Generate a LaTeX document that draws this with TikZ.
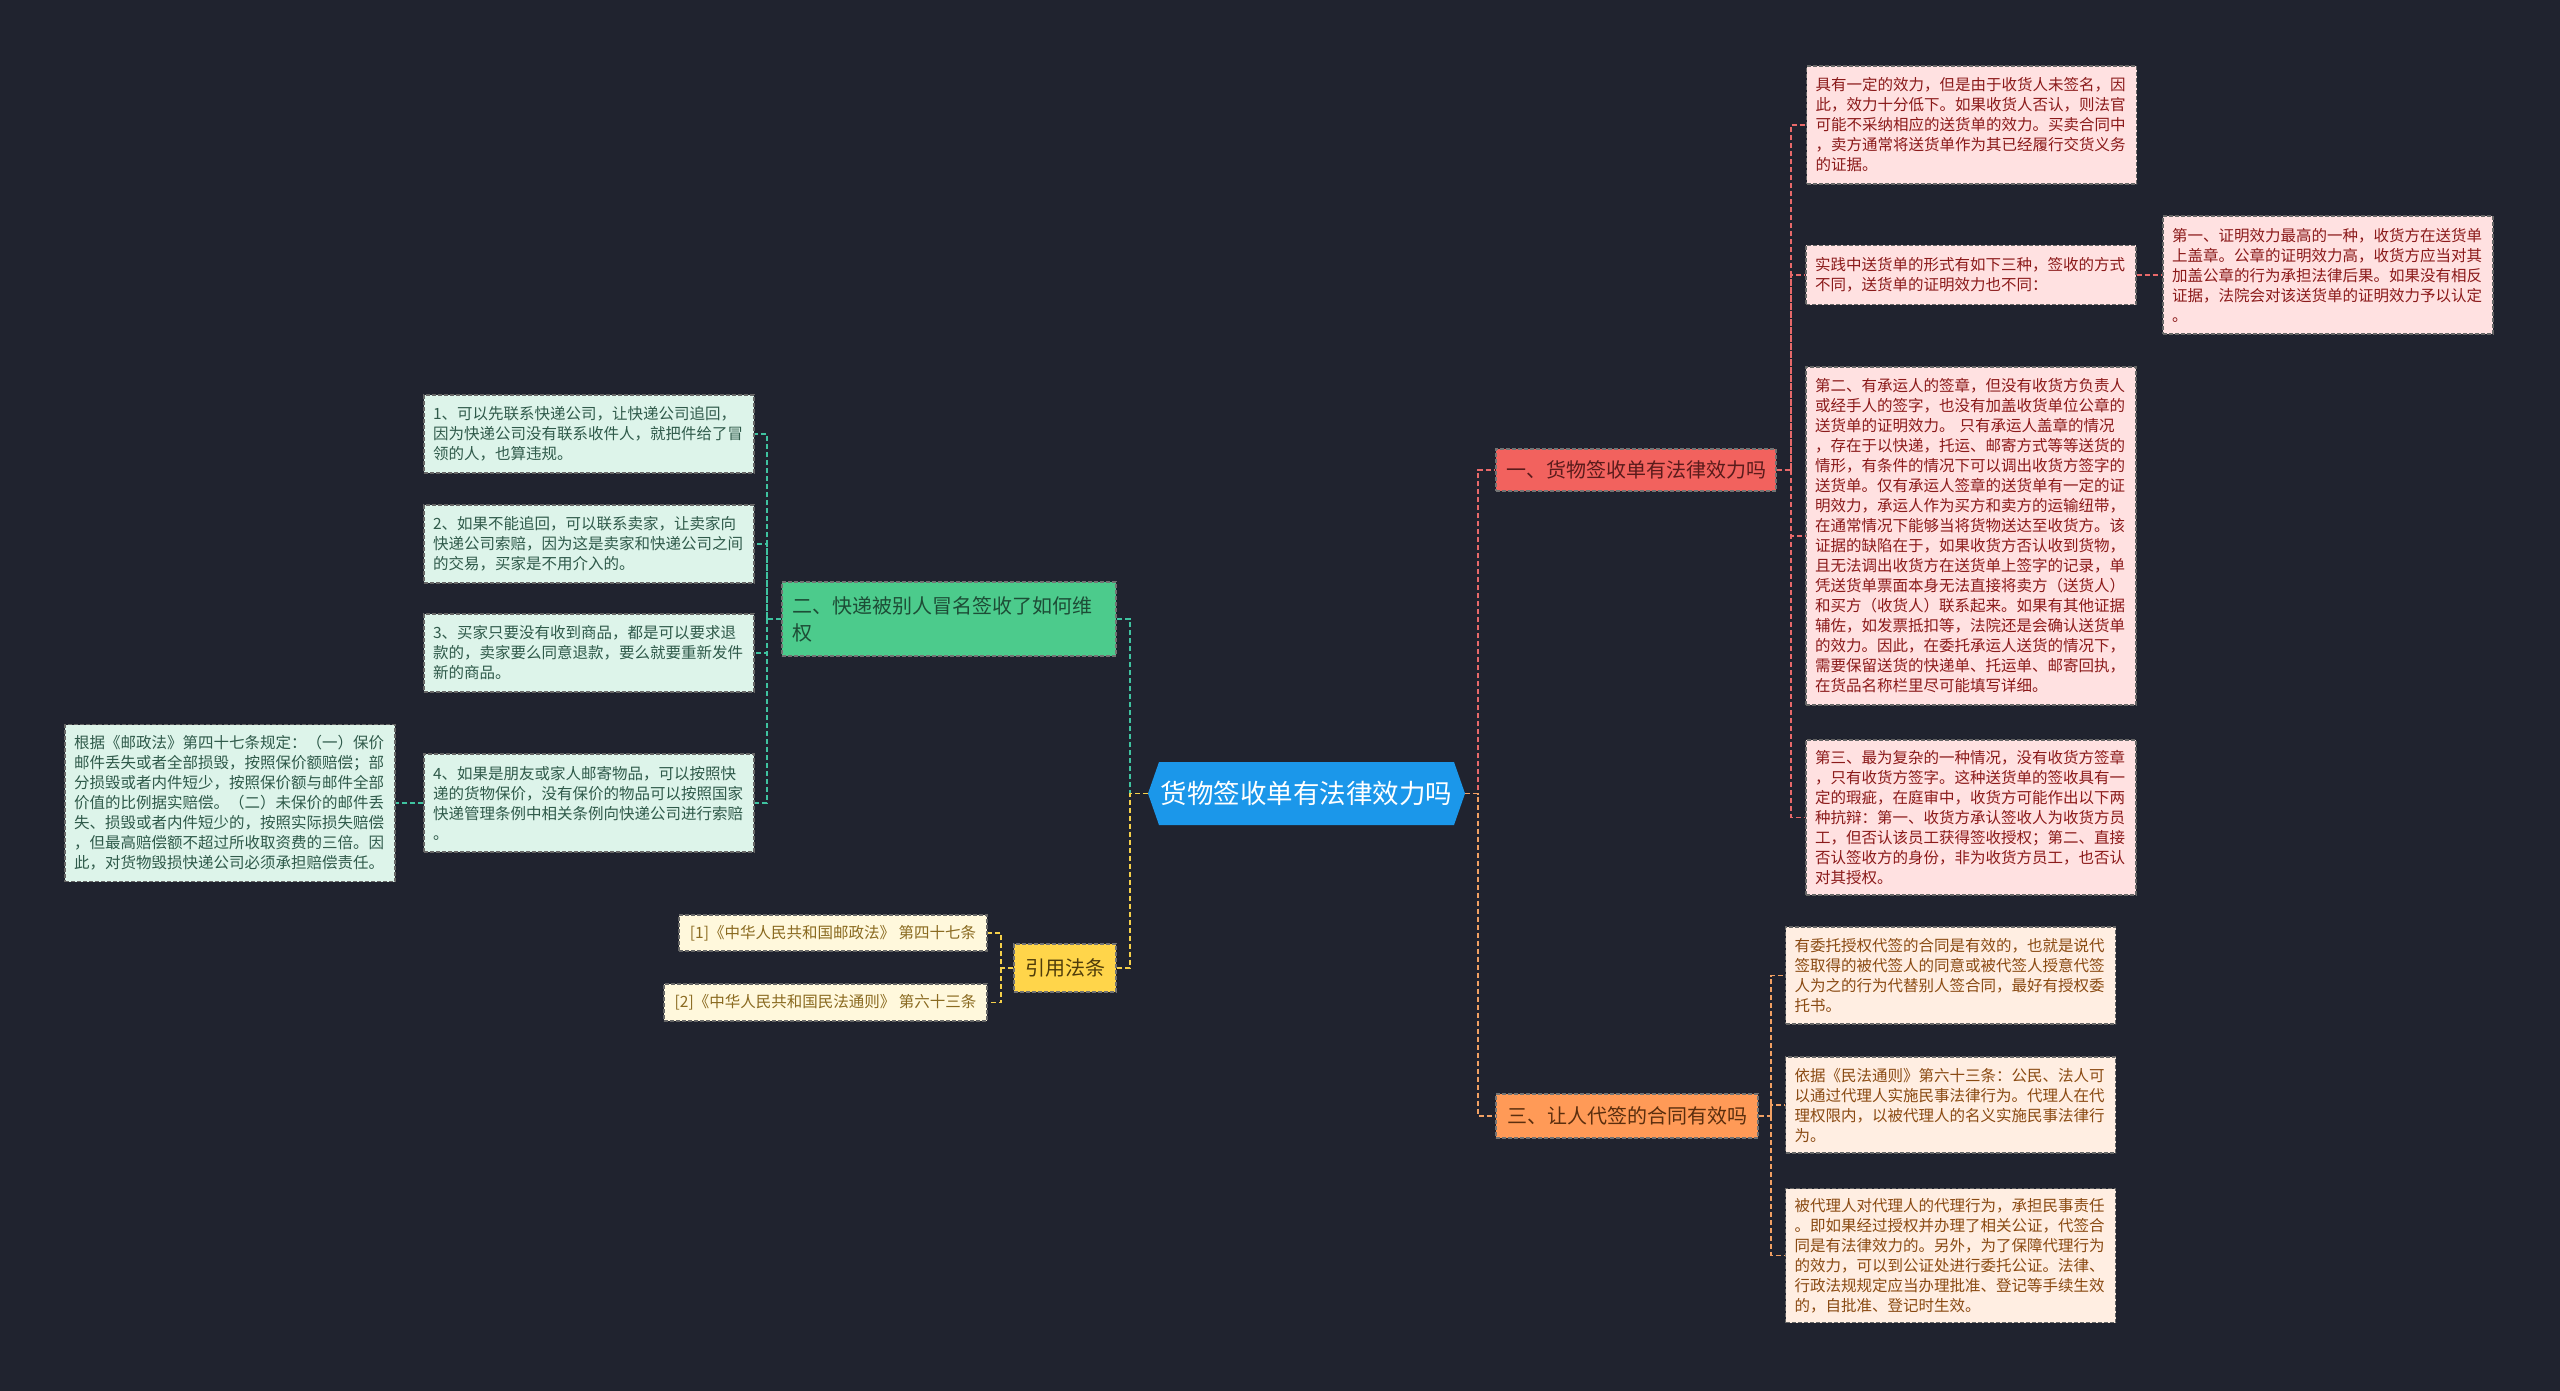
\documentclass[tikz,border=0pt]{standalone}
\usepackage{fontspec}
\setmainfont{Noto Sans CJK SC}
\definecolor{bg}{HTML}{20232F}
\definecolor{ctrblue}{HTML}{1B97EA}
\definecolor{redb}{HTML}{F2625E}
\definecolor{redt}{HTML}{5A1B1B}
\definecolor{orab}{HTML}{FF9A57}
\definecolor{orat}{HTML}{5A2E0E}
\definecolor{grnb}{HTML}{4CCB8C}
\definecolor{grnt}{HTML}{1D4D36}
\definecolor{yelb}{HTML}{FFD54A}
\definecolor{yelt}{HTML}{4F3C0A}
\definecolor{pinkf}{HTML}{FFE1E1}
\definecolor{pinkt}{HTML}{8B1A1A}
\definecolor{peachf}{HTML}{FFEEE2}
\definecolor{peacht}{HTML}{8A4A12}
\definecolor{mintf}{HTML}{DDF4EA}
\definecolor{mintt}{HTML}{2F5A4A}
\definecolor{creamf}{HTML}{FFF8DC}
\definecolor{creamt}{HTML}{8A6A20}
\definecolor{lnred}{HTML}{E8696A}
\definecolor{lnora}{HTML}{F2A063}
\definecolor{lnteal}{HTML}{3FC3A0}
\definecolor{lnyel}{HTML}{F5D04A}
\newcommand\leaffont{\fontsize{15.5}{20}\selectfont}
\newcommand\brfont{\fontsize{20}{27}\selectfont}
\begin{document}
\begin{tikzpicture}[x=1pt,y=1pt,
  boxline/.style={line width=1.2pt, dash pattern=on 4pt off 2pt},
  leafbox/.style={boxline, font=\leaffont, align=left, inner xsep=9pt, inner ysep=0pt, text width=312pt},
  pinkleaf/.style={leafbox, draw=black!60, fill=pinkf, text=pinkt},
  peachleaf/.style={leafbox, draw=black!60, fill=peachf, text=peacht},
  mintleaf/.style={leafbox, draw=black!60, fill=mintf, text=mintt},
  citebox/.style={boxline, draw=black!60, fill=creamf, text=creamt, font=\leaffont, inner sep=0pt, align=center},
  branch/.style={boxline, font=\brfont, inner sep=0pt, align=center},
  conn/.style={line width=1.8pt, dash pattern=on 5pt off 3pt},
]
\useasboundingbox[fill=bg] (0,0) rectangle (2560,-1391);

% center
\node[minimum width=317pt, minimum height=63pt, inner sep=0pt, text=white,
  font=\fontsize{26.5}{30}\selectfont,
  path picture={\fill[ctrblue] (path picture bounding box.west) -- ([xshift=11pt]path picture bounding box.north west) -- ([xshift=-11pt]path picture bounding box.north east) -- (path picture bounding box.east) -- ([xshift=-11pt]path picture bounding box.south east) -- ([xshift=11pt]path picture bounding box.south west) -- cycle;}]
  (ctr) at (1306.5,-793.5) {货物签收单有法律效力吗};

% main branches
\node[branch, draw=black!55, fill=redb, text=redt, minimum width=280pt, minimum height=42pt] (b1) at (1636,-470) {一、货物签收单有法律效力吗};
\node[branch, draw=black!55, fill=orab, text=orat, minimum width=262pt, minimum height=44pt] (b3) at (1627,-1116) {三、让人代签的合同有效吗};
\node[branch, draw=black!55, fill=grnb, text=grnt, minimum height=74pt, text width=314pt, inner xsep=10pt, align=left] (b2) at (949,-619) {二、快递被别人冒名签收了如何维\\权};
\node[branch, draw=black!55, fill=yelb, text=yelt, minimum width=102pt, minimum height=48pt] (yy) at (1065,-968) {引用法条};

% citations
\node[citebox, minimum width=308pt, minimum height=36pt] (c1) at (833,-933) {[1]《中华人民共和国邮政法》 第四十七条};
\node[citebox, minimum width=323pt, minimum height=37pt] (c2) at (825.5,-1002.5) {[2]《中华人民共和国民法通则》 第六十三条};

% right pink leaves
\node[pinkleaf, minimum height=118pt] (r1) at (1971.5,-125) {具有一定的效力，但是由于收货人未签名，因\\此，效力十分低下。如果收货人否认，则法官\\可能不采纳相应的送货单的效力。买卖合同中\\，卖方通常将送货单作为其已经履行交货义务\\的证据。};
\node[pinkleaf, minimum height=59pt] (r2) at (1971,-275) {实践中送货单的形式有如下三种，签收的方式\\不同，送货单的证明效力也不同：};
\node[pinkleaf, minimum height=118pt] (r2a) at (2328,-275) {第一、证明效力最高的一种，收货方在送货单\\上盖章。公章的证明效力高，收货方应当对其\\加盖公章的行为承担法律后果。如果没有相反\\证据，法院会对该送货单的证明效力予以认定\\。};
\node[pinkleaf, minimum height=338pt] (r3) at (1971,-536) {第二、有承运人的签章，但没有收货方负责人\\或经手人的签字，也没有加盖收货单位公章的\\送货单的证明效力。 只有承运人盖章的情况\\，存在于以快递，托运、邮寄方式等等送货的\\情形，有条件的情况下可以调出收货方签字的\\送货单。仅有承运人签章的送货单有一定的证\\明效力，承运人作为买方和卖方的运输纽带，\\在通常情况下能够当将货物送达至收货方。该\\证据的缺陷在于，如果收货方否认收到货物，\\且无法调出收货方在送货单上签字的记录，单\\凭送货单票面本身无法直接将卖方（送货人）\\和买方（收货人）联系起来。如果有其他证据\\辅佐，如发票抵扣等，法院还是会确认送货单\\的效力。因此，在委托承运人送货的情况下，\\需要保留送货的快递单、托运单、邮寄回执，\\在货品名称栏里尽可能填写详细。};
\node[pinkleaf, minimum height=155pt] (r4) at (1971,-817.5) {第三、最为复杂的一种情况，没有收货方签章\\，只有收货方签字。这种送货单的签收具有一\\定的瑕疵，在庭审中，收货方可能作出以下两\\种抗辩：第一、收货方承认签收人为收货方员\\工，但否认该员工获得签收授权；第二、直接\\否认签收方的身份，非为收货方员工，也否认\\对其授权。};

% right peach leaves
\node[peachleaf, minimum height=97pt] (o1) at (1950.5,-975.5) {有委托授权代签的合同是有效的，也就是说代\\签取得的被代签人的同意或被代签人授意代签\\人为之的行为代替别人签合同，最好有授权委\\托书。};
\node[peachleaf, minimum height=96pt] (o2) at (1950.5,-1105) {依据《民法通则》第六十三条：公民、法人可\\以通过代理人实施民事法律行为。代理人在代\\理权限内，以被代理人的名义实施民事法律行\\为。};
\node[peachleaf, minimum height=134pt] (o3) at (1950.5,-1255.5) {被代理人对代理人的代理行为，承担民事责任\\。即如果经过授权并办理了相关公证，代签合\\同是有法律效力的。另外，为了保障代理行为\\的效力，可以到公证处进行委托公证。法律、\\行政法规规定应当办理批准、登记等手续生效\\的，自批准、登记时生效。};

% left mint leaves
\node[mintleaf, minimum height=78pt] (l1) at (589,-434) {1、可以先联系快递公司，让快递公司追回，\\因为快递公司没有联系收件人，就把件给了冒\\领的人，也算违规。};
\node[mintleaf, minimum height=78pt] (l2) at (589,-544) {2、如果不能追回，可以联系卖家，让卖家向\\快递公司索赔，因为这是卖家和快递公司之间\\的交易，买家是不用介入的。};
\node[mintleaf, minimum height=78pt] (l3) at (589,-653) {3、买家只要没有收到商品，都是可以要求退\\款的，卖家要么同意退款，要么就要重新发件\\新的商品。};
\node[mintleaf, minimum height=98pt] (l4) at (589,-803) {4、如果是朋友或家人邮寄物品，可以按照快\\递的货物保价，没有保价的物品可以按照国家\\快递管理条例中相关条例向快递公司进行索赔\\。};
\node[mintleaf, minimum height=157pt] (fl) at (230,-803) {根据《邮政法》第四十七条规定：（一）保价\\邮件丢失或者全部损毁，按照保价额赔偿；部\\分损毁或者内件短少，按照保价额与邮件全部\\价值的比例据实赔偿。（二）未保价的邮件丢\\失、损毁或者内件短少的，按照实际损失赔偿\\，但最高赔偿额不超过所收取资费的三倍。因\\此，对货物毁损快递公司必须承担赔偿责任。};

% trunk coordinates
\coordinate (rt) at (1478,-793.5);
\coordinate (lt) at (1130,-793.5);
\coordinate (t1) at (1791,-470);
\coordinate (t3) at (1771,-1116);
\coordinate (t2) at (767,-619);
\coordinate (ty) at (1001,-968);

% connectors
\draw[conn, lnred] (ctr.east) -- (rt) |- (b1.west);
\draw[conn, lnora] (ctr.east) -- (rt) |- (b3.west);
\draw[conn, lnteal] (ctr.west) -- (lt) |- (b2.east);
\draw[conn, lnyel] (ctr.west) -- (lt) |- (yy.east);

\draw[conn, lnred] (b1.east) -- (t1) |- (r1.west);
\draw[conn, lnred] (t1) |- (r2.west);
\draw[conn, lnred] (t1) |- (r3.west);
\draw[conn, lnred] (t1) |- (r4.west);
\draw[conn, lnred] (r2.east) -- (r2a.west);

\draw[conn, lnora] (b3.east) -- (t3) |- (o1.west);
\draw[conn, lnora] (t3) |- (o2.west);
\draw[conn, lnora] (t3) |- (o3.west);

\draw[conn, lnteal] (b2.west) -- (t2) |- (l1.east);
\draw[conn, lnteal] (t2) |- (l2.east);
\draw[conn, lnteal] (t2) |- (l3.east);
\draw[conn, lnteal] (t2) |- (l4.east);
\draw[conn, lnteal] (l4.west) -- (fl.east);

\draw[conn, lnyel] (yy.west) -- (ty) |- (c1.east);
\draw[conn, lnyel] (ty) |- (c2.east);
\end{tikzpicture}
\end{document}
